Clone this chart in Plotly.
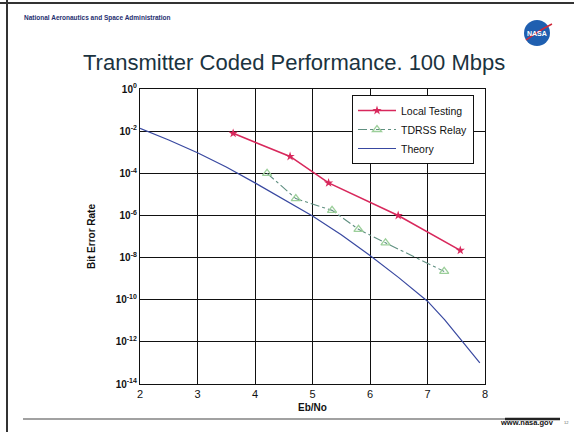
import plotly.graph_objects as go

# ---- data ----
local_x = [3.62, 4.61, 5.28, 6.49, 7.57]
local_ber = [7.9e-3, 6.3e-4, 3.5e-5, 1.0e-6, 2.2e-8]

tdrss_x = [4.21, 4.71, 5.34, 5.80, 6.27, 7.29]
tdrss_ber = [1.0e-4, 6.3e-6, 1.74e-6, 2.2e-7, 5.0e-8, 2.2e-9]

theory_x = [2.0, 2.5, 3.0, 3.5, 4.0, 4.5, 5.0, 5.5, 6.0, 6.5, 7.0, 7.3, 7.6, 7.91]
theory_ber = [1.35e-2, 3.8e-3, 9.5e-4, 2.0e-4, 3.5e-5, 6.0e-6, 9.5e-7, 1.2e-7,
              1.26e-8, 1.12e-9, 8.5e-11, 1.1e-11, 1.1e-12, 1.0e-13]

y_exponents = [0, -2, -4, -6, -8, -10, -12, -14]
x_ticks = [2, 3, 4, 5, 6, 7, 8]

W, H = 574, 432
L, R, T, B = 140, 485, 89, 384


def px(x):
    return (x - L) / (R - L)


def py(y):
    return (B - y) / (B - T)


fig = go.Figure()
fig.add_trace(go.Scatter(
    x=local_x, y=local_ber, name="Local Testing", mode="lines+markers",
    line=dict(color="#d8285c", width=1.6),
    marker=dict(symbol="star", size=7, color="#d8285c")))
fig.add_trace(go.Scatter(
    x=tdrss_x, y=tdrss_ber, name="TDRSS Relay", mode="lines+markers",
    line=dict(color="#5f8f80", width=1.1, dash="dashdot"),
    marker=dict(symbol="triangle-up-open", size=8, color="#9ccf9a",
                line=dict(width=1.3, color="#9ccf9a"))))
fig.add_trace(go.Scatter(
    x=theory_x, y=theory_ber, name="Theory", mode="lines",
    line=dict(color="#3848a0", width=1.2)))

fig.update_xaxes(range=[2, 8], tickvals=x_ticks, showgrid=True,
                 gridcolor="#111111", gridwidth=1, showline=True,
                 linecolor="#111111", linewidth=1.2, mirror=True,
                 zeroline=False, ticks="", ticklen=0,
                 tickfont=dict(family="Liberation Sans", size=11, color="#111111"),
                 title=dict(text="<b>Eb/No</b>", standoff=4,
                            font=dict(family="Liberation Sans", size=10, color="#111111")))
fig.update_yaxes(type="log", range=[-14, 0],
                 tickvals=[10.0 ** e for e in y_exponents],
                 ticktext=["<b>10<sup>%d</sup></b>" % e for e in y_exponents],
                 showgrid=True, gridcolor="#111111", gridwidth=1,
                 showline=True, linecolor="#111111", linewidth=1.2, mirror=True,
                 zeroline=False, ticks="", ticklen=0,
                 tickfont=dict(family="Liberation Sans", size=10, color="#111111"),
                 title=dict(text="<b>Bit Error Rate</b>", standoff=18,
                            font=dict(family="Liberation Sans", size=10, color="#111111")))

fig.update_layout(
    width=W, height=H,
    margin=dict(l=L, r=W - R, t=T, b=H - B, autoexpand=False),
    paper_bgcolor="white", plot_bgcolor="white",
    showlegend=True,
    legend=dict(x=px(352), y=py(95), xanchor="left", yanchor="top",
                bgcolor="white", bordercolor="#111111", borderwidth=1,
                font=dict(family="Liberation Sans", size=10.5, color="#111111"),
                tracegroupgap=0, itemwidth=38),
)

shapes = [
    # slide frame
    dict(type="line", xref="paper", yref="paper", x0=px(0), x1=px(W), y0=py(3), y1=py(3),
         line=dict(color="#333333", width=2)),
    dict(type="line", xref="paper", yref="paper", x0=px(7), x1=px(7), y0=py(0), y1=py(H),
         line=dict(color="#333333", width=2)),
    # bottom rule
    dict(type="line", xref="paper", yref="paper", x0=px(23), x1=px(560), y0=py(419), y1=py(419),
         line=dict(color="#444444", width=1.2)),
    dict(type="line", xref="paper", yref="paper", x0=px(505), x1=px(560), y0=py(419), y1=py(419),
         line=dict(color="#222222", width=2.5)),
    # NASA logo circle
    dict(type="circle", xref="paper", yref="paper", x0=px(524), x1=px(550), y0=py(20), y1=py(46),
         fillcolor="#1f5fb0", line=dict(color="#1f5fb0", width=0)),
    dict(type="path", xref="paper", yref="paper",
         path="M %f %f Q %f %f %f %f" % (px(526), py(40), px(540), py(30), px(552), py(24)),
         line=dict(color="#d0283a", width=1.5)),
]
fig.update_layout(shapes=shapes)

annos = [
    dict(text="<b>National Aeronautics and Space Administration</b>", x=px(22), y=py(18),
         xanchor="left", yanchor="middle", font=dict(family="Liberation Sans", size=6.5, color="#1f2f6f")),
    dict(text="Transmitter Coded Performance. 100 Mbps", x=px(294), y=py(62),
         xanchor="center", yanchor="middle",
         font=dict(family="Liberation Sans", size=22, color="#1b3340")),
    dict(text="<b>NASA</b>", x=px(537), y=py(33), xanchor="center", yanchor="middle",
         font=dict(family="Liberation Sans", size=7, color="white")),
    dict(text="<b>www.nasa.gov</b>", x=px(556), y=py(422), xanchor="right", yanchor="middle",
         font=dict(family="Liberation Sans", size=7.5, color="#111111")),
    dict(text="12", x=px(566), y=py(422), xanchor="center", yanchor="middle",
         font=dict(family="Liberation Sans", size=4, color="#666666")),
]
for a in annos:
    a.update(xref="paper", yref="paper", showarrow=False)
fig.update_layout(annotations=annos)

fig.write_html("out.html", config={"displayModeBar": False},
               post_script="document.body.style.margin='0';document.body.style.overflow='hidden';")
